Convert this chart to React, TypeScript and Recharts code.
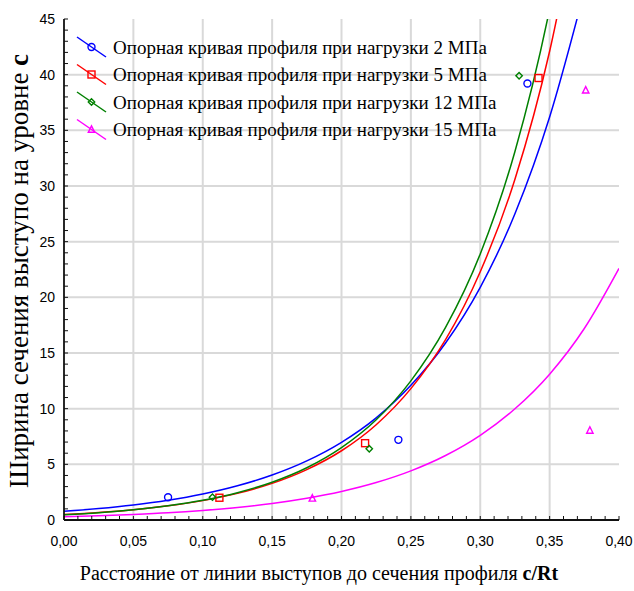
import React from 'react'
import {
  ComposedChart,
  Line,
  Scatter,
  XAxis,
  YAxis,
  CartesianGrid,
  Legend,
  Label,
} from 'recharts'

const curveX = [0, 0.025, 0.05, 0.075, 0.1, 0.125, 0.15, 0.175, 0.2, 0.225, 0.25, 0.275, 0.3, 0.325, 0.35, 0.375, 0.4]

// curve values (last ones run past the top and get clipped)
const curve2 = [0.78, 1.03, 1.35, 1.77, 2.33, 3.07, 4.04, 5.31, 6.98, 9.18, 12.1, 15.9, 20.9, 27.5, 36.2, 47.5]
const curve5 = [0.49, 0.67, 0.92, 1.27, 1.74, 2.39, 3.29, 4.53, 6.22, 8.56, 11.8, 16.2, 22.3, 30.6, 42.1, 57.9]
const curve12 = [0.48, 0.66, 0.92, 1.28, 1.77, 2.45, 3.39, 4.69, 6.5, 9.0, 12.5, 17.3, 23.9, 33.1, 45.9, 63.6]
const curve15 = [0.29, 0.38, 0.5, 0.65, 0.86, 1.13, 1.48, 1.95, 2.56, 3.36, 4.41, 5.79, 7.6, 9.99, 13.1, 17.2, 22.6]

// measured points
const pts2X = [0.075, 0.241, 0.334]
const pts2Y = [2.05, 7.2, 39.2]
const pts5X = [0.112, 0.217, 0.342]
const pts5Y = [2.0, 6.9, 39.7]
const pts12X = [0.107, 0.22, 0.328]
const pts12Y = [2.05, 6.4, 39.9]
const pts15X = [0.179, 0.376, 0.379]
const pts15Y = [1.95, 38.6, 8.05]

const xMajor = [0, 0.05, 0.1, 0.15, 0.2, 0.25, 0.3, 0.35, 0.4]
const yMajor = [0, 5, 10, 15, 20, 25, 30, 35, 40, 45]

const legendLabels = [
  'Опорная кривая профиля при нагрузки 2 МПа',
  'Опорная кривая профиля при нагрузки 5 МПа',
  'Опорная кривая профиля при нагрузки 12 МПа',
  'Опорная кривая профиля при нагрузки 15 МПа',
]

const colors = ['#0000ff', '#ff0000', '#008000', '#ff00ff']
const kinds = ['circle', 'square', 'diamond', 'triangle']

const xMinor = Array.from({ length: 41 }, (_, i) => i / 100)
const yMinor = Array.from({ length: 46 }, (_, i) => i)

const toCurve = (ys: number[]) => ys.map((y, i) => ({ x: curveX[i], y }))
const toPts = (xs: number[], ys: number[]) => xs.map((x, i) => ({ x, y: ys[i] }))

const serif = 'Liberation Serif, Times New Roman, serif'
const sans = 'Liberation Sans, Arial, sans-serif'

function Marker({ kind, cx, cy, color }: { kind: string; cx: number; cy: number; color: string }) {
  const p = { fill: 'none', stroke: color, strokeWidth: 1.4 }
  if (kind === 'circle') return <circle cx={cx} cy={cy} r={3.5} {...p} />
  if (kind === 'square') return <rect x={cx - 3.5} y={cy - 3.5} width={7} height={7} {...p} />
  if (kind === 'diamond')
    return <polygon points={`${cx},${cy - 3.2} ${cx + 3.2},${cy} ${cx},${cy + 3.2} ${cx - 3.2},${cy}`} {...p} />
  return <polygon points={`${cx},${cy - 3.6} ${cx + 3.2},${cy + 2.8} ${cx - 3.2},${cy + 2.8}`} {...p} />
}

const shapeFor = (i: number) => (props: any) => (
  <Marker kind={kinds[i]} cx={props.cx} cy={props.cy} color={colors[i]} />
)

function LegendBox() {
  return (
    <svg width={460} height={120} style={{ display: 'block' }}>
      {legendLabels.map((label, i) => {
        const cy = 19 + 27.5 * i
        return (
          <g key={label}>
            <line x1={7} y1={cy - 10} x2={36} y2={cy + 10} stroke={colors[i]} strokeWidth={1.5} />
            <Marker kind={kinds[i]} cx={21.5} cy={cy} color={colors[i]} />
            <text x={43} y={cy + 6.5} fontFamily={serif} fontSize={19} fill="#000">
              {label}
            </text>
          </g>
        )
      })}
    </svg>
  )
}

function YTitle() {
  return (
    <text
      x={28}
      y={271}
      transform="rotate(-90 28 271)"
      textAnchor="middle"
      fontFamily={serif}
      fontSize={27}
      fill="#000"
    >
      Ширина сечения выступо на уровне <tspan fontWeight="bold">c</tspan>
    </text>
  )
}

function XTitle() {
  return (
    <text x={319} y={580} textAnchor="middle" fontFamily={serif} fontSize={20} fill="#000">
      Расстояние от линии выступов до сечения профиля <tspan fontWeight="bold">c/Rt</tspan>
    </text>
  )
}

const isMajorX = (v: number) => Math.abs(v * 20 - Math.round(v * 20)) < 1e-6
const fmtX = (v: number) => (isMajorX(v) ? v.toFixed(2).replace('.', ',') : '')
const fmtY = (v: number) => (v % 5 === 0 ? String(v) : '')
const blank = () => ''

const tickStyle = { fill: '#000', fontSize: 14, fontFamily: sans }
const axisLine = { stroke: '#111', strokeWidth: 1.8 }
const tickLine = { stroke: '#111', strokeWidth: 1 }

export default function App() {
  return (
    <div style={{ position: 'absolute', left: 0, top: 0, background: '#fff' }}>
      <ComposedChart width={634} height={591} margin={{ top: 19, right: 15, bottom: 0, left: 0 }}>
        <CartesianGrid
          stroke="#d9d9d9"
          strokeWidth={2}
          verticalValues={xMajor.slice(1, -1)}
          horizontalValues={yMajor.slice(1, -1)}
        />
        <XAxis
          dataKey="x"
          type="number"
          domain={[0, 0.4]}
          ticks={xMinor}
          interval={0}
          allowDataOverflow
          height={71}
          tickSize={-4}
          tickMargin={20}
          tickFormatter={fmtX}
          tick={tickStyle}
          axisLine={axisLine}
          tickLine={tickLine}
        >
          <Label content={<XTitle />} />
        </XAxis>
        <XAxis
          xAxisId="top"
          orientation="top"
          type="number"
          domain={[0, 0.4]}
          ticks={xMinor}
          interval={0}
          height={0}
          tickSize={-4}
          tickFormatter={blank}
          axisLine={axisLine}
          tickLine={tickLine}
        />
        <YAxis
          dataKey="y"
          type="number"
          domain={[0, 45]}
          ticks={yMinor}
          interval={0}
          allowDataOverflow
          width={64}
          tickSize={-4}
          tickMargin={13}
          tickFormatter={fmtY}
          tick={tickStyle}
          axisLine={axisLine}
          tickLine={tickLine}
        >
          <Label content={<YTitle />} />
        </YAxis>
        <YAxis
          yAxisId="right"
          orientation="right"
          type="number"
          domain={[0, 45]}
          ticks={yMinor}
          interval={0}
          width={0}
          tickSize={-4}
          tickFormatter={blank}
          axisLine={axisLine}
          tickLine={tickLine}
        />
        <Legend
          layout="vertical"
          align="center"
          verticalAlign="middle"
          wrapperStyle={{ left: 70, top: 28, width: 460, height: 120 }}
          content={() => <LegendBox />}
        />
        {[curve2, curve5, curve12, curve15].map((c, i) => (
          <Line
            key={'l' + i}
            data={toCurve(c)}
            dataKey="y"
            type="monotone"
            stroke={colors[i]}
            strokeWidth={1.5}
            dot={false}
            activeDot={false}
            isAnimationActive={false}
          />
        ))}
        {[
          toPts(pts2X, pts2Y),
          toPts(pts5X, pts5Y),
          toPts(pts12X, pts12Y),
          toPts(pts15X, pts15Y),
        ].map((d, i) => (
          <Scatter key={'s' + i} data={d} shape={shapeFor(i)} isAnimationActive={false} />
        ))}
      </ComposedChart>
    </div>
  )
}
